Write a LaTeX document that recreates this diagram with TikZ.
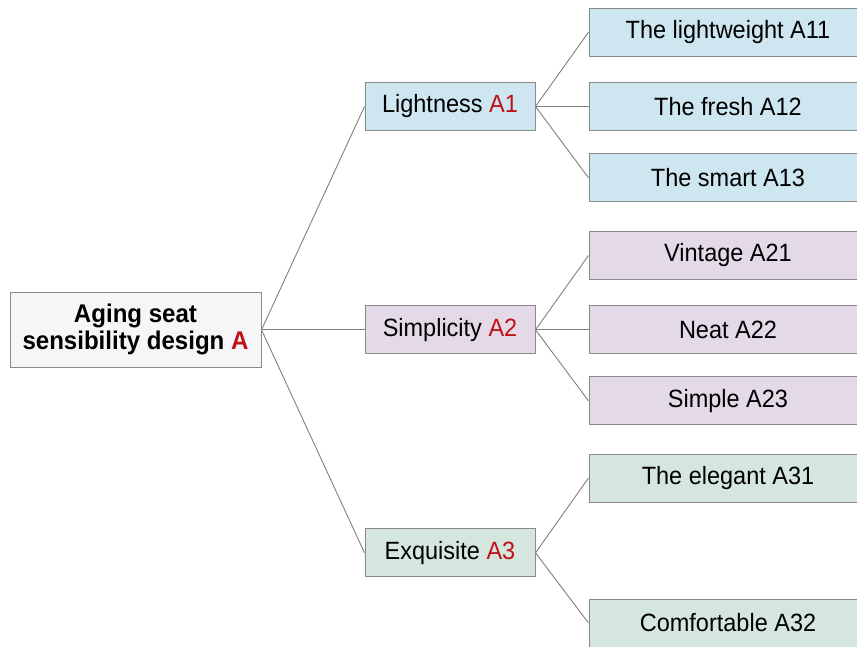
\documentclass[tikz,border=0pt]{standalone}
\usepackage{fontspec}
\setmainfont{Liberation Sans}[FakeStretch=0.94]
\definecolor{bordergray}{RGB}{138,138,138}
\definecolor{linegray}{RGB}{128,128,128}
\definecolor{accred}{RGB}{192,16,24}
\definecolor{rootfill}{RGB}{246,245,247}
\definecolor{bluefill}{RGB}{205,230,240}
\definecolor{purplefill}{RGB}{227,217,231}
\definecolor{greenfill}{RGB}{212,230,222}
\begin{document}
\begin{tikzpicture}[x=1pt,y=-1pt,
  box/.style={draw=bordergray, line width=1pt, inner sep=0pt, align=center,
    font=\fontsize{25}{28}\selectfont},
  rootbox/.style={box, fill=rootfill, minimum width=251pt, minimum height=75pt,
    font=\fontsize{25.6}{27}\selectfont\bfseries},
  midbox/.style={box, minimum width=170pt, minimum height=48pt},
  leafbox/.style={box, minimum width=278pt, minimum height=48pt},
  conn/.style={draw=linegray, line width=0.9pt}]
\useasboundingbox (0,0) rectangle (857,646);
\clip (0,0) rectangle (857,646);

\node[rootbox] (root) at (135.5,329.8) {Aging seat\\sensibility design \textcolor{accred}{A}};

\node[midbox, fill=bluefill]   (a1) at (450,106.5) {Lightness \textcolor{accred}{A1}};
\node[midbox, fill=purplefill] (a2) at (450,329.8) {Simplicity \textcolor{accred}{A2}};
\node[midbox, fill=greenfill]  (a3) at (450,552.8) {Exquisite \textcolor{accred}{A3}};

\node[leafbox, fill=bluefill] (a11) at (728,32.2) {The lightweight A11};
\node[leafbox, fill=bluefill] (a12) at (728,106.5) {The fresh A12};
\node[leafbox, fill=bluefill] (a13) at (728,177.8) {The smart A13};

\node[leafbox, fill=purplefill] (a21) at (728,255.5) {Vintage A21};
\node[leafbox, fill=purplefill] (a22) at (728,329.8) {Neat A22};
\node[leafbox, fill=purplefill] (a23) at (728,400.8) {Simple A23};

\node[leafbox, fill=greenfill] (a31) at (728,478) {The elegant A31};
\node[leafbox, fill=greenfill] (a32) at (728,623) {Comfortable A32};

\draw[conn] (root.east) -- (a1.west);
\draw[conn] (root.east) -- (a2.west);
\draw[conn] (root.east) -- (a3.west);

\draw[conn] (a1.east) -- (a11.west);
\draw[conn] (a1.east) -- (a12.west);
\draw[conn] (a1.east) -- (a13.west);

\draw[conn] (a2.east) -- (a21.west);
\draw[conn] (a2.east) -- (a22.west);
\draw[conn] (a2.east) -- (a23.west);

\draw[conn] (a3.east) -- (a31.west);
\draw[conn] (a3.east) -- (a32.west);
\end{tikzpicture}
\end{document}
